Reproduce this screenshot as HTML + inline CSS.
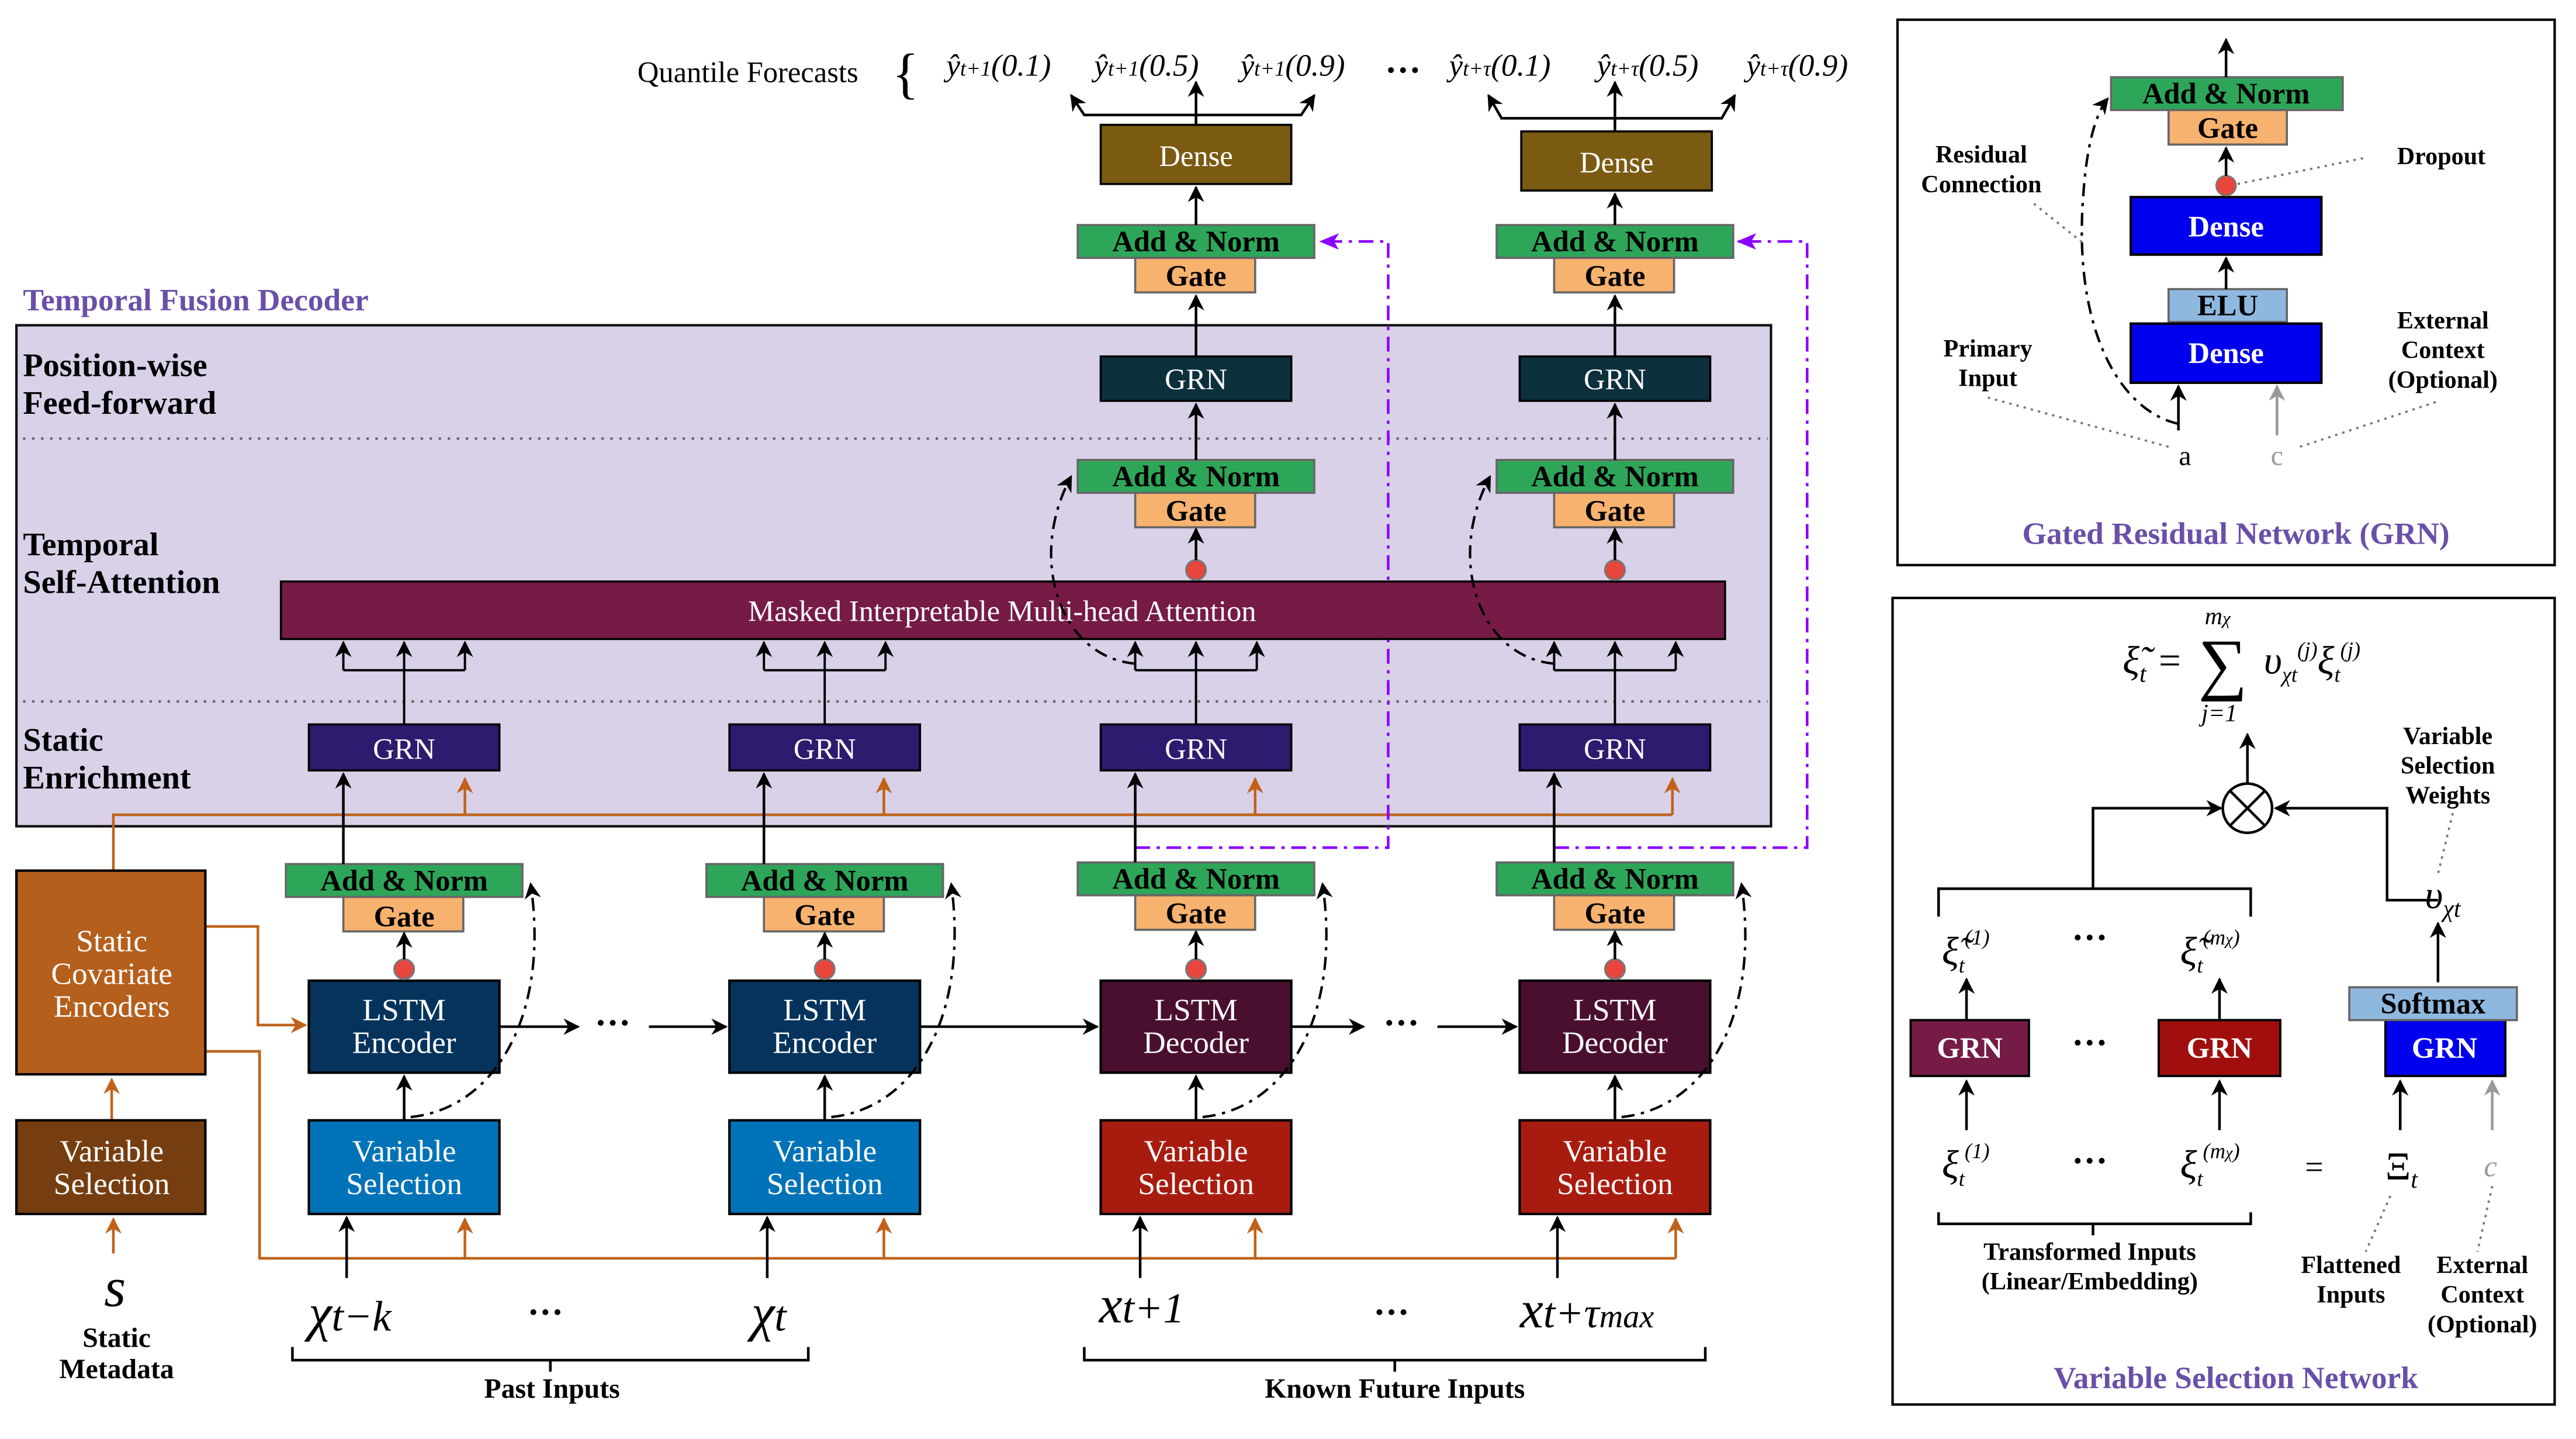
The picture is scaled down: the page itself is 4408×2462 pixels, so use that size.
<!DOCTYPE html>
<html><head><meta charset="utf-8"><style>
html,body{margin:0;padding:0;background:#fff;}
svg{display:block;}
text{font-family:"Liberation Serif",serif;}
.b{font-weight:bold;}
.w{fill:#fff;}
.m{font-style:italic;}
</style></head><body>
<svg width="4408" height="2462" viewBox="0 0 1568 876" preserveAspectRatio="none" xmlns="http://www.w3.org/2000/svg">
<defs>
<marker id="ak" markerWidth="10" markerHeight="10" refX="9" refY="5" orient="auto" markerUnits="userSpaceOnUse"><path d="M0,0 L10,5 L0,10 L3,5 Z" fill="#000"/></marker>
<marker id="ao" markerWidth="10" markerHeight="10" refX="9" refY="5" orient="auto" markerUnits="userSpaceOnUse"><path d="M0,0 L10,5 L0,10 L3,5 Z" fill="#c0621a"/></marker>
<marker id="ap" markerWidth="12" markerHeight="10" refX="11" refY="5" orient="auto" markerUnits="userSpaceOnUse"><path d="M0,0 L12,5 L0,10 L3,5 Z" fill="#8b00ff"/></marker>
<marker id="ag" markerWidth="10" markerHeight="10" refX="9" refY="5" orient="auto" markerUnits="userSpaceOnUse"><path d="M0,0 L10,5 L0,10 L3,5 Z" fill="#999"/></marker>
</defs>

<text x="14" y="189" font-size="19" class="b" fill="#6a4fa8">Temporal Fusion Decoder</text>
<rect x="10" y="198" width="1068" height="305" fill="#d9d1e8" stroke="#111" stroke-width="1.5"/>
<line x1="14" y1="267" x2="1076" y2="267" stroke="#666" stroke-dasharray="1.5,4" stroke-width="1.5"/>
<line x1="14" y1="427" x2="1076" y2="427" stroke="#666" stroke-dasharray="1.5,4" stroke-width="1.5"/>
<g font-size="20" class="b">
<text x="14" y="229" class="b">Position-wise</text><text x="14" y="252" class="b">Feed-forward</text>
<text x="14" y="338" class="b">Temporal</text><text x="14" y="361" class="b">Self-Attention</text>
<text x="14" y="457" class="b">Static</text><text x="14" y="480" class="b">Enrichment</text>
</g>

<g stroke="#c0621a" stroke-width="1.6" fill="none">
<path d="M69,530 V496 H1018"/>
<path d="M125,564 H157 V624 H186" marker-end="url(#ao)"/>
<path d="M125,640 H158 V766 H1020"/>
<path d="M283,496 V474" marker-end="url(#ao)"/><path d="M538,496 V474" marker-end="url(#ao)"/>
<path d="M764,496 V474" marker-end="url(#ao)"/><path d="M1018,496 V474" marker-end="url(#ao)"/>
<path d="M283,766 V742" marker-end="url(#ao)"/><path d="M538,766 V742" marker-end="url(#ao)"/>
<path d="M764,766 V742" marker-end="url(#ao)"/><path d="M1020,766 V742" marker-end="url(#ao)"/>
<path d="M68,682 V657" marker-end="url(#ao)"/><path d="M69,763 V742" marker-end="url(#ao)"/>
</g>

<g stroke="#8b00ff" stroke-width="1.6" fill="none" stroke-dasharray="9,4,2,4">
<path d="M691,516 H845 V147 H804" marker-end="url(#ap)"/>
<path d="M946,516 H1100 V147 H1058" marker-end="url(#ap)"/>
</g>

<rect x="10" y="530" width="115" height="124" fill="#b55f1c" stroke="#000" stroke-width="1.5"/>
<g font-size="19" class="w" text-anchor="middle"><text x="68" y="579">Static</text><text x="68" y="599">Covariate</text><text x="68" y="619">Encoders</text></g>
<rect x="10" y="682" width="115" height="57" fill="#763e10" stroke="#000" stroke-width="1.5"/>
<g font-size="19" class="w" text-anchor="middle"><text x="68" y="707">Variable</text><text x="68" y="727">Selection</text></g>
<text x="70" y="795" font-size="34" class="m" text-anchor="middle">s</text>
<g font-size="17" class="b" text-anchor="middle"><text x="71" y="820">Static</text><text x="71" y="839">Metadata</text></g>

<rect x="188" y="597" width="116" height="56" fill="#05335c" stroke="#000" stroke-width="1.5"/>
<rect x="444" y="597" width="116" height="56" fill="#05335c" stroke="#000" stroke-width="1.5"/>
<rect x="670" y="597" width="116" height="56" fill="#4a0f2f" stroke="#000" stroke-width="1.5"/>
<rect x="925" y="597" width="116" height="56" fill="#4a0f2f" stroke="#000" stroke-width="1.5"/>
<g font-size="19" class="w" text-anchor="middle">
<text x="246" y="621">LSTM</text><text x="246" y="641">Encoder</text>
<text x="502" y="621">LSTM</text><text x="502" y="641">Encoder</text>
<text x="728" y="621">LSTM</text><text x="728" y="641">Decoder</text>
<text x="983" y="621">LSTM</text><text x="983" y="641">Decoder</text>
</g>
<rect x="188" y="682" width="116" height="57" fill="#0073b8" stroke="#000" stroke-width="1.5"/>
<rect x="444" y="682" width="116" height="57" fill="#0073b8" stroke="#000" stroke-width="1.5"/>
<rect x="670" y="682" width="116" height="57" fill="#a81c10" stroke="#000" stroke-width="1.5"/>
<rect x="925" y="682" width="116" height="57" fill="#a81c10" stroke="#000" stroke-width="1.5"/>
<g font-size="19" class="w" text-anchor="middle">
<text x="246" y="707">Variable</text><text x="246" y="727">Selection</text>
<text x="502" y="707">Variable</text><text x="502" y="727">Selection</text>
<text x="728" y="707">Variable</text><text x="728" y="727">Selection</text>
<text x="983" y="707">Variable</text><text x="983" y="727">Selection</text>
</g>

<g stroke="#666" stroke-width="1.3">
<rect x="174" y="526" width="144" height="20" fill="#2ea65a"/><rect x="209" y="546" width="73" height="21" fill="#f7b26f"/>
<rect x="430" y="526" width="144" height="20" fill="#2ea65a"/><rect x="465" y="546" width="73" height="21" fill="#f7b26f"/>
<rect x="656" y="525" width="144" height="20" fill="#2ea65a"/><rect x="691" y="545" width="73" height="21" fill="#f7b26f"/>
<rect x="911" y="525" width="144" height="20" fill="#2ea65a"/><rect x="946" y="545" width="73" height="21" fill="#f7b26f"/>
<rect x="656" y="280" width="144" height="20" fill="#2ea65a"/><rect x="691" y="300" width="73" height="21" fill="#f7b26f"/>
<rect x="911" y="280" width="144" height="20" fill="#2ea65a"/><rect x="946" y="300" width="73" height="21" fill="#f7b26f"/>
<rect x="656" y="137" width="144" height="20" fill="#2ea65a"/><rect x="691" y="157" width="73" height="21" fill="#f7b26f"/>
<rect x="911" y="137" width="144" height="20" fill="#2ea65a"/><rect x="946" y="157" width="73" height="21" fill="#f7b26f"/>
</g>
<g font-size="18" class="b" text-anchor="middle">
<text x="246" y="542">Add &amp; Norm</text><text x="246" y="564">Gate</text>
<text x="502" y="542">Add &amp; Norm</text><text x="502" y="563">Gate</text>
<text x="728" y="541">Add &amp; Norm</text><text x="728" y="562">Gate</text>
<text x="983" y="541">Add &amp; Norm</text><text x="983" y="562">Gate</text>
<text x="728" y="296">Add &amp; Norm</text><text x="728" y="317">Gate</text>
<text x="983" y="296">Add &amp; Norm</text><text x="983" y="317">Gate</text>
<text x="728" y="153">Add &amp; Norm</text><text x="728" y="174">Gate</text>
<text x="983" y="153">Add &amp; Norm</text><text x="983" y="174">Gate</text>
</g>

<g stroke="#000" stroke-width="1.3">
<rect x="188" y="441" width="116" height="28" fill="#2e1a6e"/>
<rect x="444" y="441" width="116" height="28" fill="#2e1a6e"/>
<rect x="670" y="441" width="116" height="28" fill="#2e1a6e"/>
<rect x="925" y="441" width="116" height="28" fill="#2e1a6e"/>
<rect x="670" y="217" width="116" height="27" fill="#0c303c"/>
<rect x="925" y="217" width="116" height="27" fill="#0c303c"/>
<rect x="171" y="354" width="879" height="35" fill="#751b45"/>
<rect x="670" y="76" width="116" height="36" fill="#7b5a12"/>
<rect x="926" y="80" width="116" height="36" fill="#7b5a12"/>
</g>
<g font-size="18" class="w" text-anchor="middle">
<text x="246" y="462">GRN</text><text x="502" y="462">GRN</text><text x="728" y="462">GRN</text><text x="983" y="462">GRN</text>
<text x="728" y="237">GRN</text><text x="983" y="237">GRN</text>
<text x="610" y="378">Masked Interpretable Multi-head Attention</text>
<text x="728" y="101">Dense</text><text x="984" y="105">Dense</text>
</g>

<g fill="#e8453c" stroke="#777" stroke-width="1.2">
<circle cx="246" cy="590" r="6"/><circle cx="502" cy="590" r="6"/><circle cx="728" cy="590" r="6"/><circle cx="983" cy="590" r="6"/>
<circle cx="728" cy="347" r="6"/><circle cx="983" cy="347" r="6"/>
</g>

<g stroke="#000" stroke-width="1.6" fill="none" marker-end="url(#ak)">
<path d="M246,682 V655"/><path d="M502,682 V655"/><path d="M728,682 V655"/><path d="M983,682 V655"/>
<path d="M246,584 V568"/><path d="M502,584 V568"/><path d="M728,584 V567"/><path d="M983,584 V567"/>
<path d="M211,778 V741"/><path d="M467,778 V741"/><path d="M694,778 V741"/><path d="M948,778 V741"/>
<path d="M209,526 V471"/><path d="M465,526 V471"/><path d="M691,525 V471"/><path d="M946,525 V471"/>
<path d="M304,625 H352"/><path d="M395,625 H442"/><path d="M560,625 H668"/><path d="M786,625 H830"/><path d="M875,625 H923"/>
<path d="M728,341 V322"/><path d="M983,341 V322"/>
<path d="M728,280 V246"/><path d="M983,280 V246"/>
<path d="M728,217 V180"/><path d="M983,217 V180"/>
<path d="M728,137 V114"/><path d="M983,137 V118"/>
<path d="M728,76 V50"/><path d="M983,80 V50"/>
<path d="M728,70 H660 L652,58"/>
<path d="M728,70 H792 L800,58"/>
<path d="M983,72 H914 L906,58"/><path d="M983,72 H1048 L1056,58"/>
</g>
<g stroke="#000" stroke-width="1.4" fill="none">
<path d="M246,441 V408 M209,408 H283"/><path d="M502,441 V408 M465,408 H539"/>
<path d="M728,441 V408 M691,408 H765"/><path d="M983,441 V408 M946,408 H1020"/>
</g>
<g stroke="#000" stroke-width="1.4" marker-end="url(#ak)">
<line x1="209" y1="408" x2="209" y2="391"/><line x1="246" y1="408" x2="246" y2="391"/><line x1="283" y1="408" x2="283" y2="391"/>
<line x1="465" y1="408" x2="465" y2="391"/><line x1="502" y1="408" x2="502" y2="391"/><line x1="539" y1="408" x2="539" y2="391"/>
<line x1="691" y1="408" x2="691" y2="391"/><line x1="728" y1="408" x2="728" y2="391"/><line x1="765" y1="408" x2="765" y2="391"/>
<line x1="946" y1="408" x2="946" y2="391"/><line x1="983" y1="408" x2="983" y2="391"/><line x1="1020" y1="408" x2="1020" y2="391"/>
</g>
<g stroke="#000" stroke-width="1.5" fill="none" stroke-dasharray="8,4,2,4" marker-end="url(#ak)">
<path d="M250,680 C300,675 335,620 323,538"/>
<path d="M506,680 C556,675 590,620 579,538"/>
<path d="M732,680 C782,675 817,620 805,538"/>
<path d="M987,680 C1037,675 1072,620 1060,538"/>
<path d="M691,404 C645,400 625,340 652,290"/>
<path d="M946,404 C900,400 880,340 907,290"/>
</g>
<g font-size="22" text-anchor="middle" class="b"><text x="373" y="630">···</text><text x="853" y="630">···</text></g>

<g font-size="32" class="m" text-anchor="middle">
<text x="213" y="810">χ<tspan font-size="26">t−k</tspan></text>
<text x="468" y="810">χ<tspan font-size="26">t</tspan></text>
<text x="695" y="805">x<tspan font-size="26">t+1</tspan></text>
<text x="966" y="808">x<tspan font-size="26">t+τ<tspan font-size="20">max</tspan></tspan></text>
</g>
<g font-size="22" text-anchor="middle" class="b"><text x="332" y="806">···</text><text x="847" y="806">···</text></g>
<g stroke="#000" stroke-width="1.6" fill="none">
<path d="M178,820 V828 H492 V820 M335,828 V835"/>
<path d="M660,820 V828 H1038 V820 M849,828 V835"/>
</g>
<g font-size="17" class="b" text-anchor="middle"><text x="336" y="851">Past Inputs</text><text x="849" y="851">Known Future Inputs</text></g>

<text x="388" y="50" font-size="18">Quantile Forecasts</text>
<text x="543" y="56" font-size="34" font-weight="lighter">{</text>
<g font-size="19" class="m">
<text x="576" y="46">ŷ<tspan font-size="13">t+1</tspan>(0.1)</text>
<text x="666" y="46">ŷ<tspan font-size="13">t+1</tspan>(0.5)</text>
<text x="755" y="46">ŷ<tspan font-size="13">t+1</tspan>(0.9)</text>
<text x="882" y="46">ŷ<tspan font-size="13">t+τ</tspan>(0.1)</text>
<text x="972" y="46">ŷ<tspan font-size="13">t+τ</tspan>(0.5)</text>
<text x="1063" y="46">ŷ<tspan font-size="13">t+τ</tspan>(0.9)</text>
</g>
<text x="843" y="50" font-size="22" class="b">···</text>

<!-- GRN panel -->
<rect x="1155" y="12" width="400" height="332" fill="#fff" stroke="#000" stroke-width="1.5"/>
<g stroke="#666" stroke-width="1.3">
<rect x="1285" y="47" width="141" height="20" fill="#2ea65a"/><rect x="1320" y="67" width="72" height="21" fill="#f7b26f"/>
<rect x="1320" y="176" width="72" height="20" fill="#8fb8de"/>
</g>
<rect x="1297" y="120" width="116" height="35" fill="#0000ee" stroke="#000" stroke-width="1.5"/>
<rect x="1297" y="197" width="116" height="36" fill="#0000ee" stroke="#000" stroke-width="1.5"/>
<g font-size="18" class="b" text-anchor="middle">
<text x="1355" y="63">Add &amp; Norm</text><text x="1356" y="84">Gate</text><text x="1356" y="192">ELU</text>
<text x="1355" y="144" fill="#fff">Dense</text><text x="1355" y="221" fill="#fff">Dense</text>
</g>
<circle cx="1355" cy="113" r="6" fill="#e8453c" stroke="#777"/>
<g stroke="#000" stroke-width="1.6" marker-end="url(#ak)">
<line x1="1355" y1="47" x2="1355" y2="24"/><line x1="1355" y1="107" x2="1355" y2="90"/>
<line x1="1355" y1="176" x2="1355" y2="157"/>
<line x1="1326" y1="262" x2="1326" y2="235"/>
</g>
<line x1="1386" y1="265" x2="1386" y2="235" stroke="#999" stroke-width="1.6" marker-end="url(#ag)"/>
<path d="M1326,258 C1290,250 1262,200 1268,120 C1270,90 1275,70 1283,60" stroke="#000" stroke-width="1.5" fill="none" stroke-dasharray="8,4,2,4" marker-end="url(#ak)"/>
<text x="1330" y="283" font-size="17" text-anchor="middle">a</text>
<text x="1386" y="283" font-size="17" text-anchor="middle" fill="#999">c</text>
<g font-size="15" class="b" text-anchor="middle">
<text x="1206" y="99">Residual</text><text x="1206" y="117">Connection</text>
<text x="1486" y="100">Dropout</text>
<text x="1210" y="217">Primary</text><text x="1210" y="235">Input</text>
<text x="1487" y="200">External</text><text x="1487" y="218">Context</text><text x="1487" y="236">(Optional)</text>
</g>
<g stroke="#777" stroke-width="1.3" stroke-dasharray="1.5,3" fill="none">
<path d="M1238,124 L1268,148"/><path d="M1362,112 L1440,96"/>
<path d="M1210,242 L1320,272"/><path d="M1400,272 L1485,244"/>
</g>
<text x="1361" y="331" font-size="19" class="b" text-anchor="middle" fill="#6a4fa8">Gated Residual Network (GRN)</text>

<!-- VSN panel -->
<rect x="1152" y="364" width="403" height="491" fill="#fff" stroke="#000" stroke-width="1.5"/>
<g font-size="24" class="m">
<text x="1292" y="410">ξ̃<tspan font-size="15" dy="5">t</tspan><tspan dy="-5"> = </tspan></text>
<text x="1338" y="418" font-size="42" font-style="normal">∑</text>
<text x="1342" y="380" font-size="15">m<tspan font-size="11">χ</tspan></text>
<text x="1340" y="439" font-size="15">j=1</text>
<text x="1378" y="410">υ<tspan font-size="13" dy="5">χt</tspan><tspan font-size="13" dy="-15">(j)</tspan><tspan dy="10">ξ</tspan><tspan font-size="13" dy="5">t</tspan><tspan font-size="13" dy="-15">(j)</tspan></text>
</g>
<circle cx="1368" cy="492" r="15" fill="#fff" stroke="#000" stroke-width="1.6"/>
<path d="M1357,481 L1379,503 M1379,481 L1357,503" stroke="#000" stroke-width="1.6"/>
<g stroke="#000" stroke-width="1.6" fill="none">
<path d="M1180,558 V541 H1370 V558"/>
<path d="M1274,541 V492 H1352" marker-end="url(#ak)"/>
<path d="M1484,548 H1453 V492 H1385" marker-end="url(#ak)"/>
<path d="M1368,477 V447" marker-end="url(#ak)"/>
<path d="M1484,598 V562" marker-end="url(#ak)"/>
<path d="M1197,621 V596" marker-end="url(#ak)"/>
<path d="M1351,621 V596" marker-end="url(#ak)"/>
<path d="M1197,688 V658" marker-end="url(#ak)"/>
<path d="M1351,688 V658" marker-end="url(#ak)"/>
<path d="M1461,688 V658" marker-end="url(#ak)"/>
<path d="M1180,738 V745 H1370 V738 M1274,745 V752"/>
</g>
<line x1="1517" y1="688" x2="1517" y2="658" stroke="#999" stroke-width="1.6" marker-end="url(#ag)"/>
<rect x="1163" y="621" width="72" height="34" fill="#751b45" stroke="#000" stroke-width="1.4"/>
<rect x="1314" y="621" width="74" height="34" fill="#a00e0e" stroke="#000" stroke-width="1.4"/>
<rect x="1452" y="621" width="73" height="34" fill="#0000ee" stroke="#000" stroke-width="1.4"/>
<rect x="1430" y="601" width="102" height="20" fill="#8fb8de" stroke="#666" stroke-width="1.3"/>
<g font-size="18" class="b" text-anchor="middle">
<text x="1199" y="644" fill="#fff">GRN</text><text x="1351" y="644" fill="#fff">GRN</text><text x="1488" y="644" fill="#fff">GRN</text>
<text x="1481" y="617">Softmax</text>
</g>
<g font-size="24" class="m">
<text x="1182" y="587">ξ̃<tspan font-size="13" dy="5">t</tspan><tspan font-size="13" dy="-17">(1)</tspan></text>
<text x="1327" y="587">ξ̃<tspan font-size="13" dy="5">t</tspan><tspan font-size="13" dy="-17">(m</tspan><tspan font-size="10">χ</tspan><tspan font-size="13">)</tspan></text>
<text x="1182" y="717">ξ<tspan font-size="13" dy="5">t</tspan><tspan font-size="13" dy="-17">(1)</tspan></text>
<text x="1327" y="717">ξ<tspan font-size="13" dy="5">t</tspan><tspan font-size="13" dy="-17">(m</tspan><tspan font-size="10">χ</tspan><tspan font-size="13">)</tspan></text>
<text x="1452" y="718" font-style="normal">Ξ<tspan font-size="15" dy="5" font-style="italic">t</tspan></text>
<text x="1476" y="553">υ<tspan font-size="15" dy="5">χt</tspan></text>
</g>
<text x="1403" y="717" font-size="20">=</text>
<text x="1512" y="716" font-size="18" class="m" fill="#999">c</text>
<g font-size="22" class="b" text-anchor="middle"><text x="1272" y="578">···</text><text x="1272" y="642">···</text><text x="1272" y="714">···</text></g>
<g font-size="15" class="b" text-anchor="middle">
<text x="1490" y="453">Variable</text><text x="1490" y="471">Selection</text><text x="1490" y="489">Weights</text>
<text x="1272" y="767">Transformed Inputs</text><text x="1272" y="785">(Linear/Embedding)</text>
<text x="1431" y="775">Flattened</text><text x="1431" y="793">Inputs</text>
<text x="1511" y="775">External</text><text x="1511" y="793">Context</text><text x="1511" y="811">(Optional)</text>
</g>
<g stroke="#777" stroke-width="1.3" stroke-dasharray="1.5,3" fill="none">
<path d="M1493,495 L1484,532"/><path d="M1455,728 L1440,762"/><path d="M1517,722 L1508,762"/>
</g>
<text x="1361" y="845" font-size="19" class="b" text-anchor="middle" fill="#6a4fa8">Variable Selection Network</text>
</svg>
</body></html>
